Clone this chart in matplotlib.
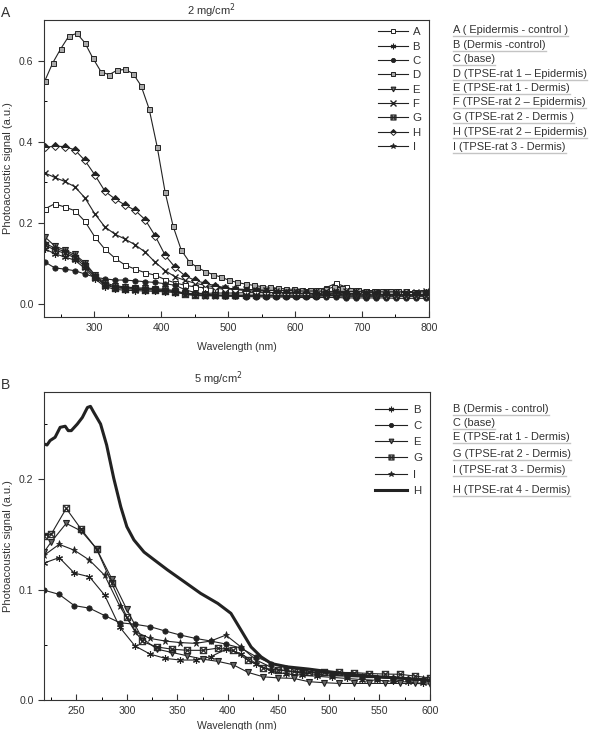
import matplotlib
matplotlib.use('Agg')
import matplotlib.pyplot as plt
from matplotlib.ticker import MultipleLocator
from matplotlib.lines import Line2D

plt.rcParams['font.family'] = ['Liberation Sans', 'DejaVu Sans']

# ---------------- Panel A data (2 mg/cm2) ----------------
wl_A15 = [226, 241, 256, 271, 286, 301, 316, 331, 346, 361, 376, 391, 406, 421, 436,
          451, 466, 481, 496, 511, 526, 541, 556, 571, 586, 601, 616, 631, 646, 661,
          676, 691, 706, 721, 736, 751, 766, 781, 796]
wl_A12 = [226, 238, 250, 262, 274, 286, 298, 310, 322, 334, 346, 358, 370, 382, 394,
          406, 418, 430, 442, 454, 466, 478, 490, 502, 514, 526, 538, 550, 562, 574,
          586, 598, 610, 622, 634, 646, 658, 670, 682, 694, 706, 718, 730, 742, 754,
          766, 778, 790]

A_A = [0.234, 0.247, 0.239, 0.230, 0.204, 0.165, 0.135, 0.113, 0.096, 0.086, 0.077, 0.071,
       0.060, 0.052, 0.046, 0.042, 0.040, 0.038, 0.037, 0.036, 0.035, 0.035, 0.034, 0.034,
       0.033, 0.033, 0.033, 0.034, 0.040, 0.051, 0.042, 0.034, 0.032, 0.032, 0.031, 0.031,
       0.030, 0.030, 0.030]
A_B = [0.136, 0.124, 0.116, 0.108, 0.088, 0.062, 0.043, 0.036, 0.034, 0.033, 0.032, 0.031,
       0.030, 0.028, 0.026, 0.026, 0.026, 0.027, 0.027, 0.027, 0.028, 0.028, 0.028, 0.028,
       0.028, 0.028, 0.028, 0.028, 0.029, 0.029, 0.028, 0.028, 0.028, 0.028, 0.028, 0.028,
       0.028, 0.028, 0.029]
A_C = [0.104, 0.089, 0.086, 0.082, 0.074, 0.066, 0.062, 0.059, 0.059, 0.057, 0.055, 0.053,
       0.050, 0.046, 0.035, 0.028, 0.024, 0.022, 0.020, 0.019, 0.018, 0.018, 0.017, 0.017,
       0.017, 0.016, 0.016, 0.016, 0.016, 0.016, 0.015, 0.015, 0.015, 0.015, 0.015, 0.014,
       0.014, 0.014, 0.014]
A_D = [0.549, 0.594, 0.629, 0.660, 0.667, 0.644, 0.606, 0.573, 0.565, 0.576, 0.578, 0.568,
       0.538, 0.481, 0.388, 0.275, 0.191, 0.133, 0.104, 0.090, 0.080, 0.072, 0.066, 0.058,
       0.053, 0.049, 0.046, 0.043, 0.041, 0.039, 0.037, 0.036, 0.035, 0.034, 0.034, 0.036,
       0.042, 0.040, 0.035, 0.034, 0.033, 0.033, 0.032, 0.032, 0.031, 0.031, 0.030, 0.030]
A_E = [0.166, 0.143, 0.133, 0.122, 0.102, 0.072, 0.052, 0.045, 0.042, 0.040, 0.039, 0.038,
       0.036, 0.033, 0.026, 0.023, 0.022, 0.021, 0.020, 0.020, 0.020, 0.020, 0.020, 0.020,
       0.019, 0.019, 0.019, 0.019, 0.020, 0.020, 0.019, 0.019, 0.019, 0.019, 0.019, 0.019,
       0.019, 0.019, 0.019]
A_F = [0.323, 0.312, 0.302, 0.289, 0.262, 0.222, 0.190, 0.172, 0.160, 0.146, 0.128, 0.103,
       0.082, 0.067, 0.058, 0.051, 0.046, 0.042, 0.039, 0.037, 0.036, 0.035, 0.034, 0.033,
       0.033, 0.032, 0.032, 0.032, 0.031, 0.031, 0.031, 0.031, 0.030, 0.030, 0.030, 0.030,
       0.030, 0.029, 0.031]
A_G = [0.146, 0.133, 0.125, 0.114, 0.093, 0.066, 0.047, 0.040, 0.038, 0.036, 0.035, 0.034,
       0.033, 0.030, 0.024, 0.022, 0.022, 0.022, 0.022, 0.022, 0.022, 0.022, 0.022, 0.022,
       0.022, 0.022, 0.022, 0.023, 0.024, 0.024, 0.023, 0.022, 0.022, 0.022, 0.022, 0.022,
       0.022, 0.022, 0.022]
A_H = [0.386, 0.389, 0.388, 0.380, 0.354, 0.318, 0.278, 0.259, 0.244, 0.231, 0.208, 0.168,
       0.120, 0.090, 0.069, 0.058, 0.051, 0.045, 0.040, 0.036, 0.033, 0.031, 0.029, 0.028,
       0.027, 0.026, 0.026, 0.025, 0.025, 0.026, 0.025, 0.024, 0.024, 0.024, 0.023, 0.023,
       0.023, 0.023, 0.023]
A_I = [0.150, 0.138, 0.129, 0.118, 0.098, 0.069, 0.049, 0.042, 0.040, 0.038, 0.037, 0.036,
       0.034, 0.031, 0.024, 0.021, 0.020, 0.020, 0.020, 0.020, 0.020, 0.020, 0.020, 0.020,
       0.020, 0.020, 0.020, 0.020, 0.021, 0.021, 0.020, 0.020, 0.020, 0.020, 0.020, 0.020,
       0.020, 0.020, 0.020]

labels_A = ['A ( Epidermis - control )', 'B (Dermis -control)', 'C (base)',
            'D (TPSE-rat 1 \u2013 Epidermis)', 'E (TPSE-rat 1 - Dermis)',
            'F (TPSE-rat 2 \u2013 Epidermis)', 'G (TPSE-rat 2 - Dermis )',
            'H (TPSE-rat 2 \u2013 Epidermis)', 'I (TPSE-rat 3 - Dermis)']

# ---------------- Panel B data (5 mg/cm2) ----------------
wl_B1 = [218, 233, 248, 263, 278, 293, 308, 323, 338, 353, 368, 383, 398, 413, 428,
         443, 458, 473, 488, 503, 518, 533, 548, 563, 578, 593]
wl_B2 = [218, 225, 240, 255, 270, 285, 300, 315, 330, 345, 360, 375, 390, 405, 420,
         435, 450, 465, 480, 495, 510, 525, 540, 555, 570, 585, 600]

B_B = [0.124, 0.129, 0.115, 0.1116, 0.095, 0.066, 0.049, 0.0416, 0.0377, 0.0362, 0.0362,
       0.0392, 0.0459, 0.0420, 0.0330, 0.0262, 0.0235, 0.0225, 0.0215, 0.0205, 0.0195,
       0.0185, 0.0178, 0.0170, 0.0163, 0.0150]
B_C = [0.0995, 0.0957, 0.0855, 0.0832, 0.0765, 0.0700, 0.0686, 0.0664, 0.0625, 0.0588,
       0.0558, 0.0534, 0.0507, 0.0470, 0.0392, 0.0330, 0.0292, 0.0270, 0.0250, 0.0235,
       0.0222, 0.0212, 0.0203, 0.0195, 0.0188, 0.0180]
B_I = [0.131, 0.141, 0.1357, 0.1267, 0.113, 0.085, 0.062, 0.0558, 0.0534, 0.0520, 0.0513,
       0.0534, 0.0588, 0.0480, 0.0362, 0.0296, 0.0262, 0.0245, 0.0232, 0.0222, 0.0215,
       0.0208, 0.0202, 0.0198, 0.0192, 0.0188]
B_E = [0.134, 0.143, 0.160, 0.153, 0.137, 0.110, 0.082, 0.056, 0.046, 0.043, 0.040, 0.037,
       0.035, 0.032, 0.025, 0.021, 0.020, 0.0196, 0.0166, 0.0157, 0.0150, 0.0150, 0.0150,
       0.0150, 0.0150, 0.0150, 0.0145]
B_G = [0.149, 0.150, 0.1735, 0.1545, 0.137, 0.106, 0.075, 0.053, 0.048, 0.046, 0.045,
       0.045, 0.047, 0.045, 0.036, 0.029, 0.027, 0.026, 0.025, 0.025, 0.025, 0.0248, 0.024,
       0.0235, 0.0233, 0.0217, 0.020]
wl_BH = [218, 221, 224, 229, 234, 239, 242, 245, 251, 256, 261, 264, 267, 274, 280, 287,
         294, 300, 307, 317, 327, 340, 357, 373, 390, 403, 413, 423, 433, 443, 459, 480,
         500, 525, 550, 575, 600]
B_H = [0.232, 0.231, 0.235, 0.238, 0.247, 0.248, 0.244, 0.244, 0.250, 0.256, 0.265, 0.266,
       0.261, 0.250, 0.231, 0.201, 0.175, 0.157, 0.145, 0.134, 0.127, 0.118, 0.107, 0.0966,
       0.0875, 0.0785, 0.0633, 0.048, 0.039, 0.033, 0.030, 0.028, 0.0256, 0.023, 0.021,
       0.0195, 0.018]

labels_B = ['B (Dermis - control)', 'C (base)', 'E (TPSE-rat 1 - Dermis)',
            'G (TPSE-rat 2 - Dermis)', 'I (TPSE-rat 3 - Dermis)', 'H (TPSE-rat 4 - Dermis)']

# ---------------- styles ----------------
LC = '#222222'
TC = '#333333'
asterisk = (6, 2, 0)
sty = {
    'A': dict(marker='s', mfc='white', mec=LC, ms=3.6, mew=0.7),
    'B': dict(marker=asterisk, mfc=LC, mec=LC, ms=5.0, mew=0.8),
    'C': dict(marker='o', mfc=LC, mec=LC, ms=3.8, mew=0.6),
    'D': dict(marker='s', mfc='#aaaaaa', mec=LC, ms=3.6, mew=0.7),
    'E': dict(marker='v', mfc='#666666', mec=LC, ms=4.2, mew=0.8),
    'F': dict(marker='x', mfc=LC, mec=LC, ms=5.0, mew=1.0),
    'G': dict(marker='$\\boxtimes$', mfc=LC, mec=LC, ms=5.0, mew=0.3),
    'H': dict(marker='D', fillstyle='top', mfc=LC, mfcalt='white', mec=LC, ms=3.8, mew=0.7),
    'I': dict(marker='*', mfc=LC, mec=LC, ms=5.2, mew=0.5),
}

fs = 7.6
fs_ext = 7.9
fig = plt.figure(figsize=(5.92, 7.30), dpi=100)
axA = fig.add_axes([0.0743, 0.5658, 0.6503, 0.4068])
axB = fig.add_axes([0.0743, 0.0411, 0.652, 0.4219])

seriesA = [('A', wl_A15, A_A), ('B', wl_A15, A_B), ('C', wl_A15, A_C), ('D', wl_A12, A_D),
           ('E', wl_A15, A_E), ('F', wl_A15, A_F), ('G', wl_A15, A_G), ('H', wl_A15, A_H),
           ('I', wl_A15, A_I)]
handlesA = []
for key, x, y in seriesA:
    h, = axA.plot(x, y, color=LC, lw=0.8, label=key, **sty[key])
    handlesA.append(h)

seriesB = [('B', wl_B1, B_B), ('C', wl_B1, B_C), ('E', wl_B2, B_E), ('G', wl_B2, B_G),
           ('I', wl_B1, B_I)]
handlesB = []
for key, x, y in seriesB:
    h, = axB.plot(x, y, color=LC, lw=0.8, label=key, **sty[key])
    handlesB.append(h)
hH, = axB.plot(wl_BH, B_H, color=LC, lw=2.2, label='H')
handlesB.append(hH)

for ax in (axA, axB):
    for s in ax.spines.values():
        s.set_linewidth(0.8)
        s.set_color('#333333')
    ax.tick_params(axis='x', which='major', direction='in', length=4, width=0.8,
                   labelsize=fs, colors=TC, pad=4)
    ax.tick_params(axis='x', which='minor', direction='in', length=2.5, width=0.7)
    ax.tick_params(axis='y', which='major', direction='out', length=4, width=0.8,
                   labelsize=fs, colors=TC)
    ax.tick_params(axis='y', which='minor', direction='in', length=2.5, width=0.7)
    ax.set_ylabel('Photoacoustic signal (a.u.)', fontsize=fs + 0.4, color=TC)
    ax.set_xlabel('Wavelength (nm)', fontsize=fs, color=TC, labelpad=7)
    ax.yaxis.set_label_coords(-31 / 592 / ax.get_position().width, 0.5)

axB.xaxis.set_label_coords(0.5, -21 / 730 / axB.get_position().height)

axA.set_xlim(225, 800)
axA.set_ylim(-0.032, 0.70)
axA.xaxis.set_major_locator(MultipleLocator(100))
axA.xaxis.set_minor_locator(MultipleLocator(50))
axA.yaxis.set_minor_locator(MultipleLocator(0.1))
axA.set_yticks([0.0, 0.2, 0.4, 0.6])
axA.set_yticklabels(['0.0', '0.2', '0.4', '0.6'])

axB.set_xlim(218, 600)
axB.set_ylim(0.0, 0.279)
axB.xaxis.set_major_locator(MultipleLocator(50))
axB.xaxis.set_minor_locator(MultipleLocator(25))
axB.yaxis.set_minor_locator(MultipleLocator(0.05))
axB.set_yticks([0.0, 0.1, 0.2])
axB.set_yticklabels(['0.0', '0.1', '0.2'])

legA = axA.legend(handles=handlesA, loc='upper right', bbox_to_anchor=(1.0, 1.0),
                  frameon=False, fontsize=fs + 0.6, handlelength=2.6, handletextpad=0.4,
                  labelspacing=0.38, borderaxespad=0.25, labelcolor=TC, markerscale=0.8)
legB = axB.legend(handles=handlesB, loc='upper right', bbox_to_anchor=(1.0, 0.985),
                  frameon=False, fontsize=fs + 0.6, handlelength=2.8, handletextpad=0.5,
                  labelspacing=0.55, borderaxespad=0.3, labelcolor=TC, markerscale=0.8)

W, Hh = 592.0, 730.0
fig.text(211 / W, 1 - 11 / Hh, '2 mg/cm$^2$', ha='center', va='center', fontsize=fs + 0.4, color=TC)
fig.text(218 / W, 1 - 379 / Hh, '5 mg/cm$^2$', ha='center', va='center', fontsize=fs + 0.4, color=TC)
fig.text(6 / W, 1 - 13 / Hh, 'A', ha='center', va='center', fontsize=10, color=TC)
fig.text(5 / W, 1 - 385 / Hh, 'B', ha='center', va='center', fontsize=10, color=TC)

ext_texts = []
ysA = [30, 45, 59, 74, 88, 102, 117, 132, 147]
for lab, yy in zip(labels_A, ysA):
    ext_texts.append(fig.text(453 / W, 1 - yy / Hh, lab, ha='left', va='center',
                              fontsize=fs_ext, color=TC))
ysB = [409, 423, 437, 454, 470, 490]
for lab, yy in zip(labels_B, ysB):
    ext_texts.append(fig.text(453 / W, 1 - yy / Hh, lab, ha='left', va='center',
                              fontsize=fs_ext, color=TC))

fig.canvas.draw()
r = fig.canvas.get_renderer()
for t in ext_texts:
    bb = t.get_window_extent(renderer=r)
    yline = (bb.y0 - 1.0) / fig.bbox.height
    fig.add_artist(Line2D([bb.x0 / fig.bbox.width, bb.x1 / fig.bbox.width], [yline, yline],
                          transform=fig.transFigure, color='#c4c4c4', lw=1.0))

fig.savefig('out.png', dpi=100)
